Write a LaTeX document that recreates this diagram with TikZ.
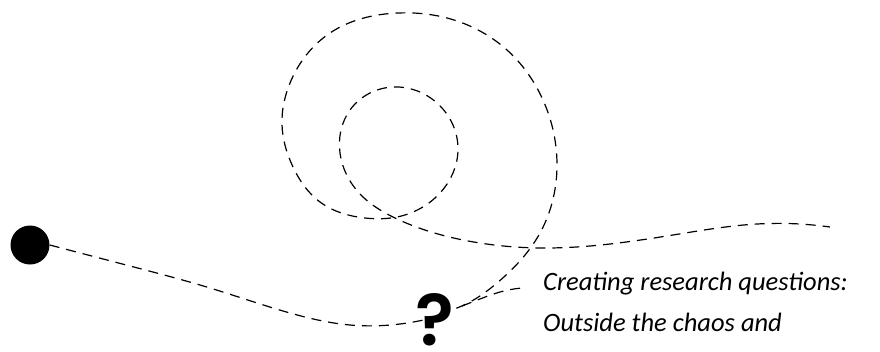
\documentclass[tikz,border=0pt]{standalone}
\usepackage{fontspec}
\usetikzlibrary{hobby}
\setmainfont{Carlito}
\newfontfamily\qfont{Poppins SemiBold}
\begin{document}
\begin{tikzpicture}[x=1pt,y=-1pt,
  dashline/.style={line width=1.2pt,dash pattern=on 10pt off 7pt,line cap=butt},
  lbl/.style={anchor=base west,inner sep=0pt,font=\fontsize{26.5}{30}\selectfont\itshape}]
\useasboundingbox (0,0) rectangle (880,351);
\node[circle,fill=black,minimum size=39pt,inner sep=0pt] (dot) at (30,245) {};
\coordinate (qin) at (432,318);
\coordinate (qout) at (440,313);
\coordinate (qbr) at (462,306);
\coordinate (end1) at (830,227);
\coordinate (end2) at (522,288);
% dot to question mark
\draw[dashline,use Hobby shortcut] (dot.east) .. (130,266) .. (210,288) .. (290,313) .. (350,325) .. (400,324) .. (qin);
% question mark up into the loops and out to the right
\draw[dashline,use Hobby shortcut] (qout) .. (470,302) .. (497,283) .. (540,233) .. (557,165) .. (543,100) .. (507,50) .. (443,17) .. (398,13) .. (330,33) .. (290,83) .. (282,125) .. (293,167) .. (320,202) .. (365,218) .. (397,217) .. (440,193) .. (458,150) .. (437,103) .. (393,87) .. (350,110) .. (340,153) .. (363,197) .. (393,217) .. (463,240) .. (543,248) .. (673,235) .. (757,224) .. (end1);
% short branch
\draw[dashline,use Hobby shortcut] (qbr) .. (480,299) .. (500,292) .. (end2);
\node[inner sep=0pt,anchor=base,font=\qfont\fontsize{72}{72}\selectfont] (qm) at (435,345) {?};
\node[lbl] (t1) at (543,290) {Creating research questions:};
\node[lbl] (t2) at (543,331) {Outside the chaos and};
\end{tikzpicture}
\end{document}
